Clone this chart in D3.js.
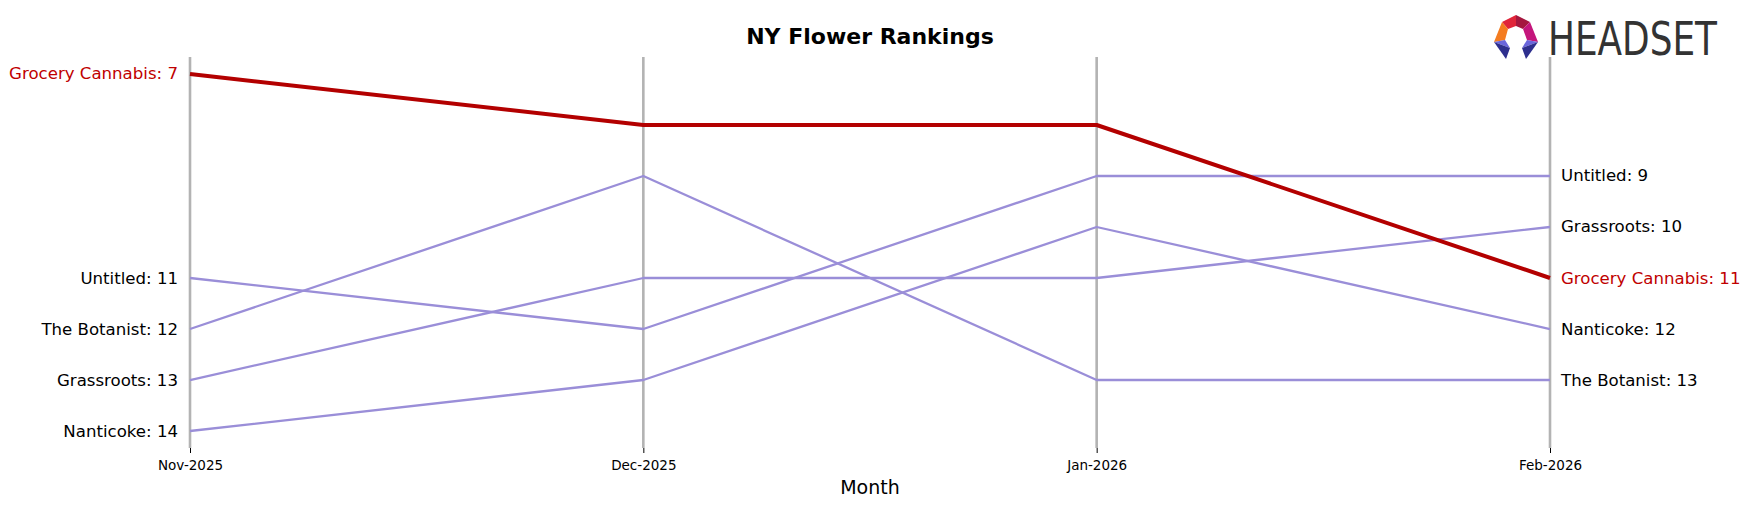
<!DOCTYPE html>
<html>
<head>
<meta charset="utf-8">
<script src="https://cdn.jsdelivr.net/npm/d3@7"></script>
<style>
  html, body { margin: 0; padding: 0; background: #fff; }
  svg { display: block; font-family: "DejaVu Sans", sans-serif; }
</style>
</head>
<body>
<svg id="chart" width="1750" height="507"></svg>
<script>
const months = ["Nov-2025", "Dec-2025", "Jan-2026", "Feb-2026"];
const brands = ["Grocery Cannabis", "Untitled", "The Botanist", "Grassroots", "Nanticoke"];
const groceryCannabis = [7, 8, 8, 11];
const untitled = [11, 12, 9, 9];
const theBotanist = [12, 9, 13, 13];
const grassroots = [13, 11, 11, 10];
const nanticoke = [14, 13, 10, 12];
const highlight = "Grocery Cannabis";

const series = [
  { name: "Untitled", values: untitled },
  { name: "The Botanist", values: theBotanist },
  { name: "Grassroots", values: grassroots },
  { name: "Nanticoke", values: nanticoke },
  { name: "Grocery Cannabis", values: groceryCannabis }
];

const svg = d3.select("#chart");
const x = d3.scalePoint().domain(months).range([190, 1550]);
const y = d3.scaleLinear().domain([6.667, 14.333]).range([57, 448]);

const RED = "#b30000", RED_TXT = "#c00000", PURPLE = "#9a8ed8", GRID = "#b3b3b3";

// vertical month lines
svg.append("g").selectAll("line").data(months).join("line")
  .attr("x1", d => x(d)).attr("x2", d => x(d))
  .attr("y1", y.range()[0]).attr("y2", y.range()[1])
  .attr("stroke", GRID).attr("stroke-width", 2.6);

// x axis (ticks only, no domain)
const xAxis = svg.append("g").attr("transform", `translate(0,${y.range()[1]})`)
  .call(d3.axisBottom(x).tickSize(5).tickPadding(7));
xAxis.select(".domain").remove();
xAxis.selectAll(".tick line").attr("stroke", "#000").attr("stroke-width", 1);
xAxis.selectAll(".tick text").attr("font-size", "13.5px").attr("fill", "#000")
  .attr("font-family", "DejaVu Sans, sans-serif");

const line = d3.line().x((d, i) => x(months[i])).y(d => y(d));

svg.append("g").selectAll("path").data(series).join("path")
  .attr("d", d => line(d.values))
  .attr("fill", "none")
  .attr("stroke", d => d.name === highlight ? RED : PURPLE)
  .attr("stroke-width", d => d.name === highlight ? 4 : 2.3)
  .attr("stroke-linejoin", "round");

// left labels
svg.append("g").selectAll("text").data(series).join("text")
  .attr("x", x(months[0]) - 12)
  .attr("y", d => y(d.values[0]))
  .attr("text-anchor", "end").attr("dominant-baseline", "central")
  .attr("font-size", "16.6px")
  .attr("fill", d => d.name === highlight ? RED_TXT : "#000")
  .text(d => `${d.name}: ${d.values[0]}`);

// right labels
svg.append("g").selectAll("text").data(series).join("text")
  .attr("x", x(months[3]) + 11)
  .attr("y", d => y(d.values[3]))
  .attr("text-anchor", "start").attr("dominant-baseline", "central")
  .attr("font-size", "16.6px")
  .attr("fill", d => d.name === highlight ? RED_TXT : "#000")
  .text(d => `${d.name}: ${d.values[3]}`);

// title
svg.append("text").attr("x", 870).attr("y", 44).attr("text-anchor", "middle")
  .attr("font-size", "22px").attr("font-weight", "bold").attr("fill", "#000")
  .text("NY Flower Rankings");

// x axis label
svg.append("text").attr("x", 870).attr("y", 494).attr("text-anchor", "middle")
  .attr("font-size", "19px").attr("fill", "#000").text("Month");

// HEADSET logo
const logo = svg.append("g").attr("transform", "translate(1493,15)");
const facets = [
  { p: [[9,7],[23,0],[23,11],[15,14]], c: "#e0253a" },
  { p: [[23,0],[37,7],[30,14],[23,11]], c: "#a5173f" },
  { p: [[9,7],[15,14],[12,25],[1,27]], c: "#f47c20" },
  { p: [[37,7],[45,27],[34,25],[30,14]], c: "#c4167c" },
  { p: [[1,27],[12,25],[17,33]], c: "#6a66dc" },
  { p: [[1,27],[17,33],[13,44]], c: "#2e2f8e" },
  { p: [[45,27],[34,25],[29,33]], c: "#6a66dc" },
  { p: [[45,27],[29,33],[33,44]], c: "#2e2f8e" }
];
logo.selectAll("polygon").data(facets).join("polygon")
  .attr("points", d => d.p.map(q => q.join(",")).join(" "))
  .attr("fill", d => d.c);
svg.append("text").attr("x", 1548).attr("y", 55)
  .attr("font-family", "Liberation Sans Narrow, DejaVu Sans Condensed, sans-serif")
  .attr("font-size", "46px").attr("fill", "#333")
  .attr("textLength", 169).attr("lengthAdjust", "spacingAndGlyphs")
  .text("HEADSET");
</script>
</body>
</html>
